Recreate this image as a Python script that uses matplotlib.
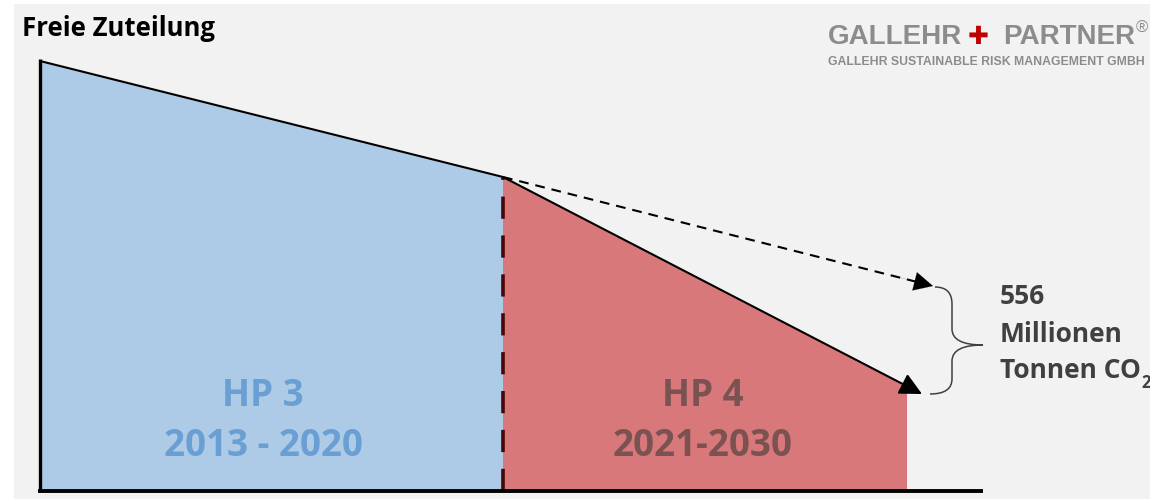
import matplotlib
matplotlib.use("Agg")
import matplotlib.pyplot as plt
from matplotlib.patches import Rectangle, PathPatch
from matplotlib.path import Path

plt.rcParams['lines.scale_dashes'] = False

# ---- data (chart units) ----
periods = ["HP 3", "HP 4"]
period_years = ["2013 - 2020", "2021-2030"]
hp3_x = [0, 463]
hp3_y = [430, 314]
hp4_x = [463, 867]
hp4_y = [314, 105]
hp4_tip = [882, 97]        # end of actual reduction path (arrow tip)
trend_tip = [893, 205]     # end of continued HP3 trend (dashed arrow tip)
gap_value = "556"
gap_unit = ["Millionen", "Tonnen CO"]
x_axis_end = 943
y_axis_top = 432

BG = "#f2f2f2"
BLUE = "#adcbe6"
RED = "#d9787a"
BLUE_TXT = "#6a9fd3"
RED_TXT = "#7a5252"
GREY_TXT = "#404040"
LOGO = "#8c8c8c"
FONT = "Open Sans"

fig = plt.figure(figsize=(11.5, 5.02), dpi=100)
fig.patch.set_facecolor("white")
ax = fig.add_axes([0, 0, 1, 1])
ax.set_xlim(-40, 1110)
ax.set_ylim(-10, 492)
ax.axis("off")

# panel background
ax.add_patch(Rectangle((-26, -8), 1140, 495, facecolor=BG, edgecolor="none", zorder=0))

# fills
ax.fill_between(hp3_x, [0, 0], hp3_y, facecolor=BLUE, edgecolor="none", zorder=1)
ax.fill_between(hp4_x, [0, 0], hp4_y, facecolor=RED, edgecolor="none", zorder=1)

# top line HP3
ax.plot(hp3_x, hp3_y, color="black", lw=1.5, solid_capstyle="butt", zorder=3)

head = "-|>,head_length=0.9,head_width=0.45"
# solid arrow HP4
ax.annotate("", xy=hp4_tip, xytext=(hp4_x[0], hp4_y[0]),
            arrowprops=dict(arrowstyle=head, color="black", lw=1.5,
                            shrinkA=0, shrinkB=0, mutation_scale=15), zorder=4)

# dashed trend line + solid head
sx, sy = hp3_x[1], hp3_y[1]
ex, ey = trend_tip
fx, fy = sx + (ex - sx) * 0.97, sy + (ey - sy) * 0.97
ax.plot([sx, fx], [sy, fy], color="black", lw=1.5, linestyle=(0, (7, 5)), zorder=4)
ax.annotate("", xy=trend_tip, xytext=(sx + (ex - sx) * 0.9, sy + (ey - sy) * 0.9),
            arrowprops=dict(arrowstyle=head, color="black", lw=0.1,
                            shrinkA=0, shrinkB=0, mutation_scale=15), zorder=4)

# vertical dashed boundary
ax.plot([hp3_x[1], hp3_x[1]], [0, hp3_y[1]], color="#4a0505", lw=2.6,
        linestyle=(0, (16, 12)), zorder=3)

# axes lines
ax.plot([0, 0], [0, y_axis_top], color="black", lw=2.4, solid_capstyle="butt", zorder=5)
ax.plot([-2, x_axis_end], [0, 0], color="black", lw=2.8, solid_capstyle="butt", zorder=5)

# curly brace
verts = [(895, 204), (912, 204), (912, 187),
         (912, 162),
         (912, 146), (943, 146),
         (912, 146), (912, 130),
         (912, 112),
         (912, 97), (890, 97)]
codes = [Path.MOVETO, Path.CURVE3, Path.CURVE3,
         Path.LINETO,
         Path.CURVE3, Path.CURVE3,
         Path.CURVE3, Path.CURVE3,
         Path.LINETO,
         Path.CURVE3, Path.CURVE3]
ax.add_patch(PathPatch(Path(verts, codes), facecolor="none", edgecolor=GREY_TXT, lw=1.1, zorder=4))

# gap label
GS = 19
ax.text(960, 196, gap_value, fontsize=GS, fontweight="bold", color=GREY_TXT,
        family=FONT, ha="left", va="center")
ax.text(960, 158, gap_unit[0], fontsize=GS, fontweight="bold", color=GREY_TXT,
        family=FONT, ha="left", va="center")
t = ax.text(960, 121, gap_unit[1], fontsize=GS, fontweight="bold", color=GREY_TXT,
            family=FONT, ha="left", va="center")
ax.annotate("2", xy=(1, 0), xycoords=t, xytext=(0.5, 1), textcoords="offset points",
            fontsize=12, fontweight="bold", color=GREY_TXT, family=FONT,
            ha="left", va="center")

# period labels
PS = 26.5
ax.text(223, 96, periods[0], fontsize=PS, fontweight="bold", color=BLUE_TXT,
        family=FONT, ha="center", va="center")
ax.text(223, 46, period_years[0], fontsize=PS, fontweight="bold", color=BLUE_TXT,
        family=FONT, ha="center", va="center")
ax.text(663, 96, periods[1], fontsize=PS, fontweight="bold", color=RED_TXT,
        family=FONT, ha="center", va="center")
ax.text(663, 46, period_years[1], fontsize=PS, fontweight="bold", color=RED_TXT,
        family=FONT, ha="center", va="center")

# title
ax.text(-18, 463, "Freie Zuteilung", fontsize=18.5, fontweight="bold", color="black",
        family=FONT, ha="left", va="center")

# logo
LF = "Liberation Sans"
ax.text(788, 455, "GALLEHR", fontsize=20, fontweight="bold", color=LOGO, family=LF,
        ha="left", va="center")
ax.text(938, 455, "\u271a", fontsize=18, color="#c00000", family="DejaVu Sans",
        ha="center", va="center")
ax.text(963, 455, "PARTNER", fontsize=20, fontweight="bold", color=LOGO, family=LF,
        ha="left", va="center")
ax.text(1096, 464, "®", fontsize=12, color=LOGO, family=LF, ha="left", va="center")
ax.text(788, 430, "GALLEHR SUSTAINABLE RISK MANAGEMENT GMBH", fontsize=8.8,
        fontweight="bold", color=LOGO, family=LF, ha="left", va="center")

fig.savefig("out.png", dpi=100, facecolor=fig.get_facecolor())
